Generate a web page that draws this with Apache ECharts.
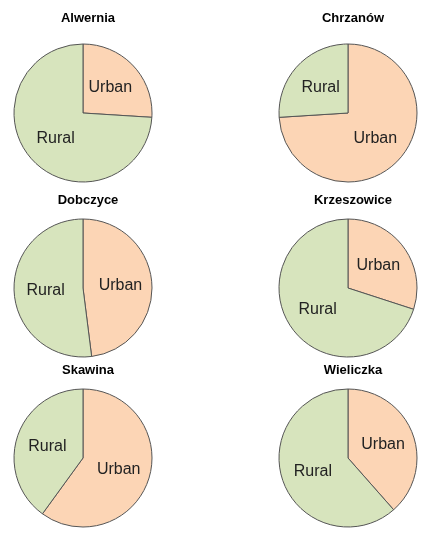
<!DOCTYPE html>
<html><head><meta charset="utf-8">
<script src="https://cdn.jsdelivr.net/npm/echarts@6/dist/echarts.min.js"></script>
<style>html,body{margin:0;padding:0;background:#fff}#c{width:428px;height:550px}</style>
</head><body><div id="c"></div>
<script>
var towns = ['Alwernia','Chrzanów','Dobczyce','Krzeszowice','Skawina','Wieliczka'];
var urban = [26, 74, 48, 30, 60, 38.5];
var rural = [74, 26, 52, 70, 40, 61.5];
var cx = [83, 348], cy = [113, 288, 458], ty = [7, 189, 359];
var series = [], titles = [];
towns.forEach(function(t, i){
  var col = i % 2, row = Math.floor(i / 2);
  titles.push({text: t, left: cx[col], top: ty[row], textAlign: 'center',
    textStyle: {fontFamily: 'Liberation Sans', fontSize: 13, fontWeight: 'bold', color: '#000'}});
  series.push({type: 'pie', center: [cx[col], cy[row]], radius: 69, startAngle: 90, clockwise: true,
    animation: false, silent: true,
    label: {position: 'inner', fontFamily: 'Liberation Sans', fontSize: 16, color: '#222', formatter: '{b}'},
    labelLine: {show: false},
    itemStyle: {borderColor: '#555', borderWidth: 1},
    data: [{name: 'Urban', value: urban[i], itemStyle: {color: '#fcd5b5'}},
           {name: 'Rural', value: rural[i], itemStyle: {color: '#d7e4bd'}}]});
});
echarts.init(document.getElementById('c')).setOption({title: titles, series: series});
</script></body></html>
